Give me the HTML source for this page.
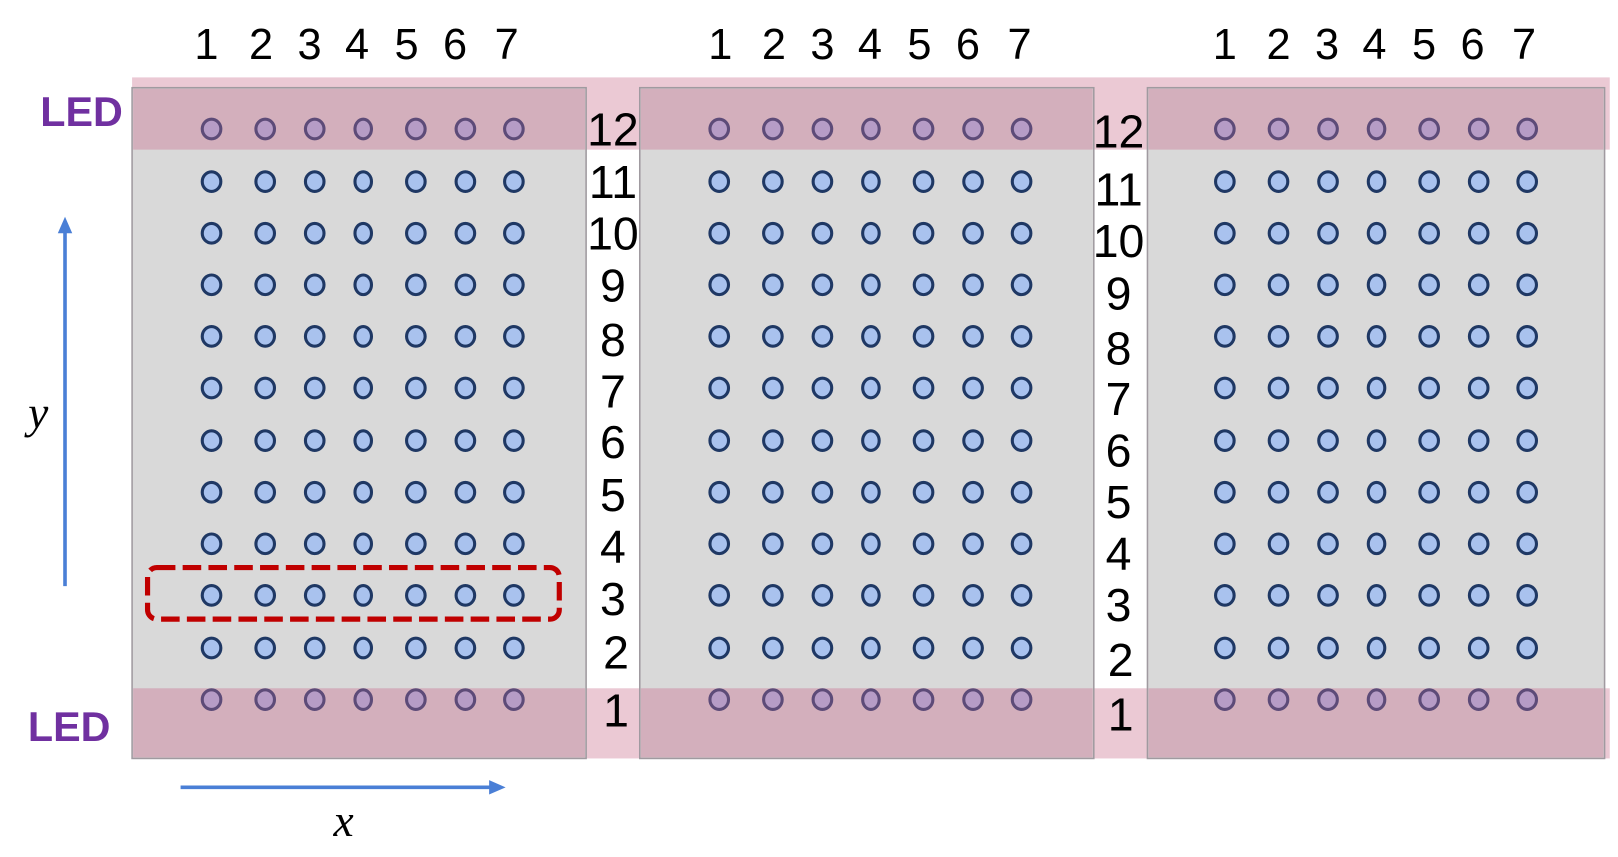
<!DOCTYPE html>
<html><head><meta charset="utf-8"><style>html,body{margin:0;padding:0;background:#fff}svg{display:block}</style></head>
<body>
<svg width="1618" height="857" viewBox="0 0 1568 830.5" xmlns="http://www.w3.org/2000/svg" font-family="Liberation Sans, Arial, sans-serif">
<defs>
<g id="rb" fill="#a9c2ee" stroke="#1f3864" stroke-width="3">
<ellipse cx="0" cy="0" rx="9" ry="9.5"/><ellipse cx="52" cy="0" rx="9" ry="9.5"/><ellipse cx="100" cy="0" rx="9" ry="9.5"/><ellipse cx="147" cy="0" rx="8" ry="9.5"/><ellipse cx="198" cy="0" rx="9" ry="9.5"/><ellipse cx="246" cy="0" rx="9" ry="9.5"/><ellipse cx="293" cy="0" rx="9" ry="9.5"/>
</g>
<g id="rl" fill="#b69cc6" stroke="#5d4b78" stroke-width="3">
<ellipse cx="0" cy="0" rx="9" ry="9.5"/><ellipse cx="52" cy="0" rx="9" ry="9.5"/><ellipse cx="100" cy="0" rx="9" ry="9.5"/><ellipse cx="147" cy="0" rx="8" ry="9.5"/><ellipse cx="198" cy="0" rx="9" ry="9.5"/><ellipse cx="246" cy="0" rx="9" ry="9.5"/><ellipse cx="293" cy="0" rx="9" ry="9.5"/>
</g>
</defs>
<rect x="128" y="75" width="1432" height="70" fill="#ebc9d4"/>
<rect x="128" y="667" width="1432" height="68" fill="#ebc9d4"/>
<g stroke="#a09aa0" stroke-width="1.5">
<rect x="128" y="85" width="440" height="650" fill="#d9d9d9"/>
<rect x="620" y="85" width="440" height="650" fill="#d9d9d9"/>
<rect x="1112" y="85" width="443" height="650" fill="#d9d9d9"/>
</g>
<g fill="#d3afbc">
<rect x="129" y="86" width="438" height="59"/>
<rect x="621" y="86" width="438" height="59"/>
<rect x="1113" y="86" width="441" height="59"/>
<rect x="129" y="667" width="438" height="67"/>
<rect x="621" y="667" width="438" height="67"/>
<rect x="1113" y="667" width="441" height="67"/>
</g>
<g>
<use href="#rl" x="205" y="125"/><use href="#rl" x="697" y="125"/><use href="#rl" x="1187" y="125"/>
<use href="#rb" x="205" y="176"/><use href="#rb" x="697" y="176"/><use href="#rb" x="1187" y="176"/>
<use href="#rb" x="205" y="226"/><use href="#rb" x="697" y="226"/><use href="#rb" x="1187" y="226"/>
<use href="#rb" x="205" y="276"/><use href="#rb" x="697" y="276"/><use href="#rb" x="1187" y="276"/>
<use href="#rb" x="205" y="326"/><use href="#rb" x="697" y="326"/><use href="#rb" x="1187" y="326"/>
<use href="#rb" x="205" y="376"/><use href="#rb" x="697" y="376"/><use href="#rb" x="1187" y="376"/>
<use href="#rb" x="205" y="427"/><use href="#rb" x="697" y="427"/><use href="#rb" x="1187" y="427"/>
<use href="#rb" x="205" y="477"/><use href="#rb" x="697" y="477"/><use href="#rb" x="1187" y="477"/>
<use href="#rb" x="205" y="527"/><use href="#rb" x="697" y="527"/><use href="#rb" x="1187" y="527"/>
<use href="#rb" x="205" y="577"/><use href="#rb" x="697" y="577"/><use href="#rb" x="1187" y="577"/>
<use href="#rb" x="205" y="628"/><use href="#rb" x="697" y="628"/><use href="#rb" x="1187" y="628"/>
<use href="#rl" x="205" y="678"/><use href="#rl" x="697" y="678"/><use href="#rl" x="1187" y="678"/>
</g>
<rect x="143" y="550" width="399" height="50" rx="9" fill="none" stroke="#c00000" stroke-width="5" stroke-dasharray="18 7"/>
<g font-size="42" fill="#000" text-anchor="middle">
<text x="200" y="57">1</text><text x="253" y="57">2</text><text x="300" y="57">3</text><text x="346" y="57">4</text><text x="394" y="57">5</text><text x="441" y="57">6</text><text x="491" y="57">7</text>
<text x="698" y="57">1</text><text x="750" y="57">2</text><text x="797" y="57">3</text><text x="843" y="57">4</text><text x="891" y="57">5</text><text x="938" y="57">6</text><text x="988" y="57">7</text>
<text x="1187" y="57">1</text><text x="1239" y="57">2</text><text x="1286" y="57">3</text><text x="1332" y="57">4</text><text x="1380" y="57">5</text><text x="1427" y="57">6</text><text x="1477" y="57">7</text>
</g>
<g font-size="45" fill="#000" text-anchor="middle">
<text x="594" y="141">12</text><text x="594" y="192">11</text><text x="594" y="242">10</text><text x="594" y="292">9</text><text x="594" y="345">8</text><text x="594" y="395">7</text><text x="594" y="444">6</text><text x="594" y="495">5</text><text x="594" y="545">4</text><text x="594" y="596">3</text><text x="597" y="648">2</text><text x="597" y="704">1</text>
<text x="1084" y="143">12</text><text x="1084" y="199">11</text><text x="1084" y="249">10</text><text x="1084" y="300">9</text><text x="1084" y="353">8</text><text x="1084" y="402">7</text><text x="1084" y="452">6</text><text x="1084" y="502">5</text><text x="1084" y="552">4</text><text x="1084" y="602">3</text><text x="1086" y="655">2</text><text x="1086" y="708">1</text>
</g>
<g font-size="40" font-weight="bold" fill="#7030a0" text-anchor="middle">
<text x="79" y="122">LED</text>
<text x="67" y="718">LED</text>
</g>
<g stroke="#4a7fd6" stroke-width="3.5" fill="#4a7fd6">
<line x1="63" y1="568" x2="63" y2="224"/>
<polygon points="63,210 56,226 70,226" stroke="none"/>
<line x1="175" y1="763" x2="476" y2="763"/>
<polygon points="490,763 474,756 474,770" stroke="none"/>
</g>
<text x="37" y="415" font-family="Liberation Serif, serif" font-style="italic" font-size="44" text-anchor="middle">y</text>
<text x="333" y="810" font-family="Liberation Serif, serif" font-style="italic" font-size="44" text-anchor="middle">x</text>
</svg>
</body></html>
